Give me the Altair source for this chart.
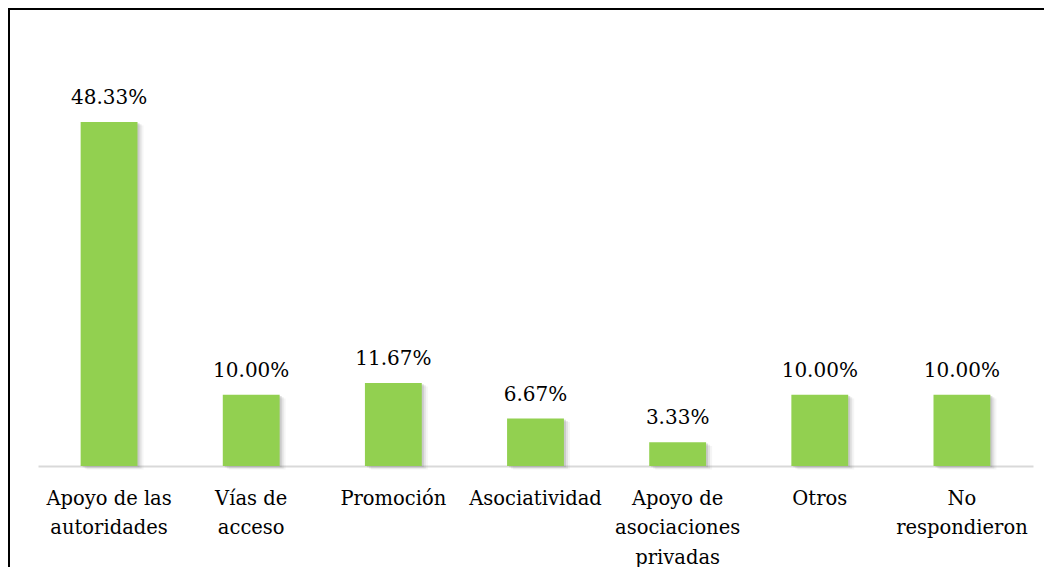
import altair as alt
import pandas as pd

categories = ["Apoyo de las|autoridades", "Vías de|acceso", "Promoción", "Asociatividad",
              "Apoyo de|asociaciones|privadas", "Otros", "No|respondieron"]
values = [48.33, 10.00, 11.67, 6.67, 3.33, 10.00, 10.00]
labels = ["48.33%", "10.00%", "11.67%", "6.67%", "3.33%", "10.00%", "10.00%"]

df = pd.DataFrame({"cat": categories, "val": values, "lab": labels})

FONT = "DejaVu Serif"

x = alt.X("cat:N", sort=None, title=None,
          scale=alt.Scale(paddingInner=0.6, paddingOuter=0.3),
          axis=alt.Axis(labelAngle=0, labelExpr="split(datum.label, '|')",
                        labelFont=FONT, labelFontSize=19.5, labelColor="#000000",
                        labelLineHeight=29.5, labelPadding=23, ticks=False,
                        domainColor="#d9d9d9", domainWidth=2, labelLimit=300))
y = alt.Y("val:Q", title=None, scale=alt.Scale(domain=[0, 59]), axis=None)

base = alt.Chart(df)

shadows = [
    base.mark_bar(color="#7f7f7f", opacity=op, xOffset=off, yOffset=off * 0.6)
    .encode(x=x, y=y)
    for off, op in [(6, 0.08), (4, 0.15), (2, 0.25)]
]

bars = base.mark_bar(color="#92D050").encode(x=x, y=y)

text = base.mark_text(font=FONT, fontSize=20, color="#000000", baseline="bottom", dy=-14).encode(
    x=x, y=y, text="lab:N")

frame = alt.Chart(alt.Data(values=[{}])).mark_rect(
    fill=None, stroke="#000000", strokeWidth=2).encode(
    x=alt.value(-29), x2=alt.value(1100), y=alt.value(-37), y2=alt.value(700))

chart = alt.layer(*shadows, bars, text, frame).properties(
    width=995, height=420,
    background="#ffffff",
    autosize=alt.AutoSizeParams(type="none"),
    padding={"left": 30, "top": 38, "right": 11, "bottom": 101},
).configure_view(stroke=None)

chart.save("out.html", embed_options={"renderer": "svg", "actions": False})
